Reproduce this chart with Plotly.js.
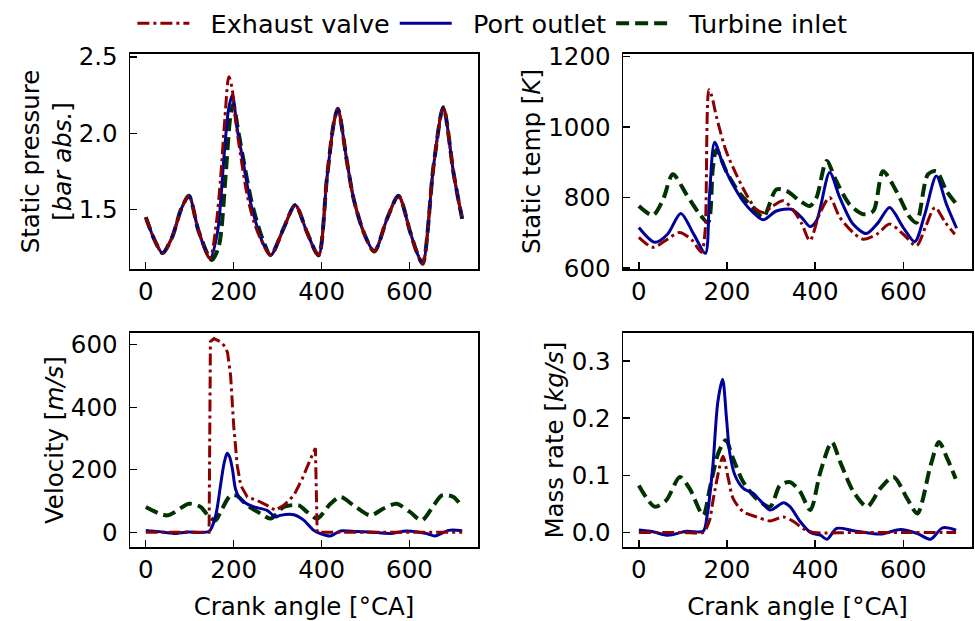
<!DOCTYPE html>
<html><head><meta charset="utf-8">
<script src="https://cdn.plot.ly/plotly-3.0.1.min.js"></script>
<style>html,body{margin:0;padding:0;background:#fff}</style>
</head><body><div id="chart" style="width:975px;height:621px"></div>
<script>
// ---------- data ----------
const seriesNames = ["Exhaust valve", "Port outlet", "Turbine inlet"];

// Static pressure [bar abs.]
const pExhX = [0,20,38,60,80,98,120,146,160,170,180,189,196,204,216,231,246,261,284,314,340,367,393,412,428,437,458,473,496,520,549,575,602,617,630,655,677,700,711,720];
const pExhY = [1.45,1.30,1.215,1.32,1.50,1.59,1.36,1.18,1.40,1.70,2.10,2.37,2.30,2.09,1.85,1.59,1.42,1.31,1.20,1.38,1.53,1.35,1.20,1.70,2.07,2.16,1.81,1.57,1.35,1.225,1.44,1.59,1.35,1.22,1.145,1.79,2.17,1.745,1.57,1.44];
const pPortX = [0,20,38,60,80,98,120,146,163,178,188,197,208,223,238,252,265,284,314,340,367,393,412,428,437,458,473,496,520,549,575,602,617,630,655,677,700,711,720];
const pPortY = [1.45,1.30,1.215,1.32,1.50,1.59,1.36,1.18,1.35,1.85,2.15,2.25,2.03,1.79,1.55,1.40,1.29,1.20,1.38,1.53,1.35,1.20,1.70,2.07,2.16,1.81,1.57,1.35,1.225,1.44,1.59,1.35,1.22,1.145,1.79,2.17,1.745,1.57,1.44];
const pTurbX = [0,20,38,60,80,98,120,150,166,182,192,199,210,225,240,255,268,284,314,340,367,393,412,428,437,458,473,496,520,549,575,602,617,630,655,677,700,711,720];
const pTurbY = [1.45,1.30,1.215,1.32,1.50,1.59,1.36,1.17,1.26,1.74,2.10,2.19,2.02,1.78,1.56,1.40,1.29,1.20,1.38,1.53,1.35,1.20,1.70,2.07,2.16,1.81,1.57,1.35,1.225,1.44,1.59,1.35,1.22,1.145,1.79,2.17,1.745,1.57,1.44];

// Static temperature [K]
const tExhX = [0,32,60,92,120,142,150,159,165,176,198,221,244,266,282,304,327,350,370,388,410,433,456,486,509,540,569,600,630,650,672,695,717];
const tExhY = [687,659,678,701,680,645,700,1106,1090,1030,932,866,809,767,758,776,791,765,725,678,753,800,744,701,682,696,725,696,663,715,772,730,696];
const tPortX = [0,36,65,95,125,151,160,172,191,213,236,259,282,312,346,369,388,403,433,456,486,516,543,569,600,626,649,675,698,721];
const tPortY = [715,673,696,755,695,642,800,957,894,838,791,758,737,762,767,744,718,734,871,800,725,698,729,772,715,675,753,861,781,713];
const tTurbX = [0,32,55,77,108,138,157,168,176,200,230,259,282,312,335,365,388,403,426,448,478,509,532,554,584,615,630,656,675,698,721];
const tTurbY = [776,750,795,866,809,753,729,885,936,870,810,772,744,823,819,791,776,800,904,847,781,753,762,875,819,744,729,866,875,819,781];

// Velocity [m/s]
const vExhX = [0,60,120,144,147,155,170,180,186,193,200,208,216,231,253,276,295,314,337,356,375,386,390,420,500,600,720];
const vExhY = [0,0,0,0,610,620,610,595,575,501,341,214,150,113,102,86,70,86,118,171,235,269,0,0,0,0,0];
const vPortX = [0,30,64,95,144,159,170,178,185,191,197,204,213,223,246,276,295,306,337,360,382,397,420,443,480,511,556,594,639,658,689,720];
const vPortY = [6,2,-4,1,3,54,150,220,253,240,203,139,110,97,81,70,49,54,56,38,6,-4,-12,4,2,1,-4,4,-4,-12,6,5];
const vTurbX = [0,49,98,125,144,159,170,193,208,231,261,284,314,348,367,390,420,443,473,511,541,571,601,628,655,674,700,720];
const vTurbY = [81,54,91,81,49,38,65,118,116,86,60,44,81,86,65,44,91,113,86,54,76,91,65,38,86,118,113,81];

// Mass rate [kg/s]
const mExhX = [0,100,146,160,169,184,191,203,214,237,267,298,328,351,374,396,500,600,720];
const mExhY = [0,0,0,0.02,0.059,0.117,0.133,0.094,0.059,0.036,0.027,0.02,0.027,0.019,0.006,0,0,0,0];
const mPortX = [0,32,66,108,146,155,168,179,190,199,206,218,237,260,275,298,328,343,366,389,412,427,449,487,548,594,632,662,689,720];
const mPortY = [0.004,0.001,-0.005,0.002,0.002,0.03,0.117,0.227,0.268,0.198,0.14,0.10,0.077,0.068,0.056,0.039,0.052,0.045,0.019,0,-0.005,-0.012,0.007,0.003,-0.003,0.005,-0.002,-0.012,0.008,0.004];
const mTurbX = [0,36,62,93,115,146,161,180,197,214,237,267,298,320,343,366,389,412,438,457,487,518,548,578,609,632,662,681,700,719];
const mTurbY = [0.082,0.045,0.056,0.097,0.077,0.030,0.077,0.138,0.161,0.129,0.088,0.059,0.045,0.082,0.088,0.071,0.039,0.106,0.158,0.123,0.071,0.045,0.077,0.097,0.059,0.033,0.117,0.158,0.129,0.094];

const xTicks = [0,200,400,600];

// ---------- styles ----------
const styles = [
  {color:"#8b0000", width:3, dash:"12px,4px,3px,4px"},
  {color:"#00009b", width:3, dash:"solid"},
  {color:"#003300", width:4, dash:"13px,6px"}
];

const pad = "\u00a0\u00a0";
function tr(x, y, k, ax, legend, shape) {
  return {
    x: x, y: y, type: "scatter", mode: "lines", name: pad + seriesNames[k],
    xaxis: ax[0], yaxis: ax[1], showlegend: legend, legendrank: k + 1,
    line: {color: styles[k].color, width: styles[k].width, dash: styles[k].dash,
           shape: shape || "spline", smoothing: 0.8}
  };
}

const traces = [
  tr(pTurbX, pTurbY, 2, ["x","y"], true),
  tr(pPortX, pPortY, 1, ["x","y"], true),
  tr(pExhX, pExhY, 0, ["x","y"], true),
  tr(tTurbX, tTurbY, 2, ["x2","y2"], false),
  tr(tPortX, tPortY, 1, ["x2","y2"], false),
  tr(tExhX, tExhY, 0, ["x2","y2"], false),
  tr(vTurbX, vTurbY, 2, ["x3","y3"], false),
  tr(vPortX, vPortY, 1, ["x3","y3"], false),
  tr(vExhX, vExhY, 0, ["x3","y3"], false, "linear"),
  tr(mTurbX, mTurbY, 2, ["x4","y4"], false),
  tr(mPortX, mPortY, 1, ["x4","y4"], false),
  tr(mExhX, mExhY, 0, ["x4","y4"], false)
];

const font = {family: "DejaVu Sans", size: 24.5, color: "#000"};
function xa(dom, anchor, title) {
  const a = {domain: dom, anchor: anchor, range: [-36, 756], tickvals: xTicks,
    showline: true, linecolor: "#000", linewidth: 1.5, mirror: true,
    ticks: "inside", ticklen: 7, tickwidth: 1.3, tickcolor: "#000",
    showgrid: false, zeroline: false, tickfont: font};
  if (title) a.title = {text: title, font: font, standoff: 14};
  return a;
}
function ya(dom, anchor, range, dtick, fmt, title) {
  return {domain: dom, anchor: anchor, range: range, dtick: dtick, tick0: 0,
    tickformat: fmt, showline: true, linecolor: "#000", linewidth: 1.5, mirror: true,
    ticks: "inside", ticklen: 7, tickwidth: 1.3, tickcolor: "#000",
    ticklabelstandoff: 6,
    showgrid: false, zeroline: false, tickfont: font,
    title: {text: title, font: font}};
}

const dxL = [130/975, 478/975], dxR = [623/975, 972/975];
const dyT = [1-268/621, 1-52/621], dyB = [1-547/621, 1-332/621];

const layout = {
  width: 975, height: 621,
  margin: {l: 0, r: 0, t: 0, b: 0},
  paper_bgcolor: "#fff", plot_bgcolor: "#fff",
  font: font,
  showlegend: true,
  legend: {orientation: "h", x: 0.505, xanchor: "center", y: 0.965, yanchor: "middle",
           font: {family: "DejaVu Sans", size: 25.5, color: "#000"},
           bgcolor: "rgba(0,0,0,0)", traceorder: "normal", itemwidth: 52},
  xaxis: xa(dxL, "y"),
  yaxis: ya(dyT, "x", [1.11, 2.52], 0.5, ".1f", "Static pressure<br>[<i>bar abs.</i>]"),
  xaxis2: xa(dxR, "y2"),
  yaxis2: ya(dyT, "x2", [597, 1208], 200, "d", "Static temp [<i>K</i>]"),
  xaxis3: xa(dxL, "y3", "Crank angle [°CA]"),
  yaxis3: ya(dyB, "x3", [-48, 638], 200, "d", "Velocity [<i>m/s</i>]"),
  xaxis4: xa(dxR, "y4", "Crank angle [°CA]"),
  yaxis4: ya(dyB, "x4", [-0.026, 0.349], 0.1, ".1f", "Mass rate [<i>kg/s</i>]")
};

Plotly.newPlot("chart", traces, layout, {displayModeBar: false, staticPlot: true});
</script></body></html>
